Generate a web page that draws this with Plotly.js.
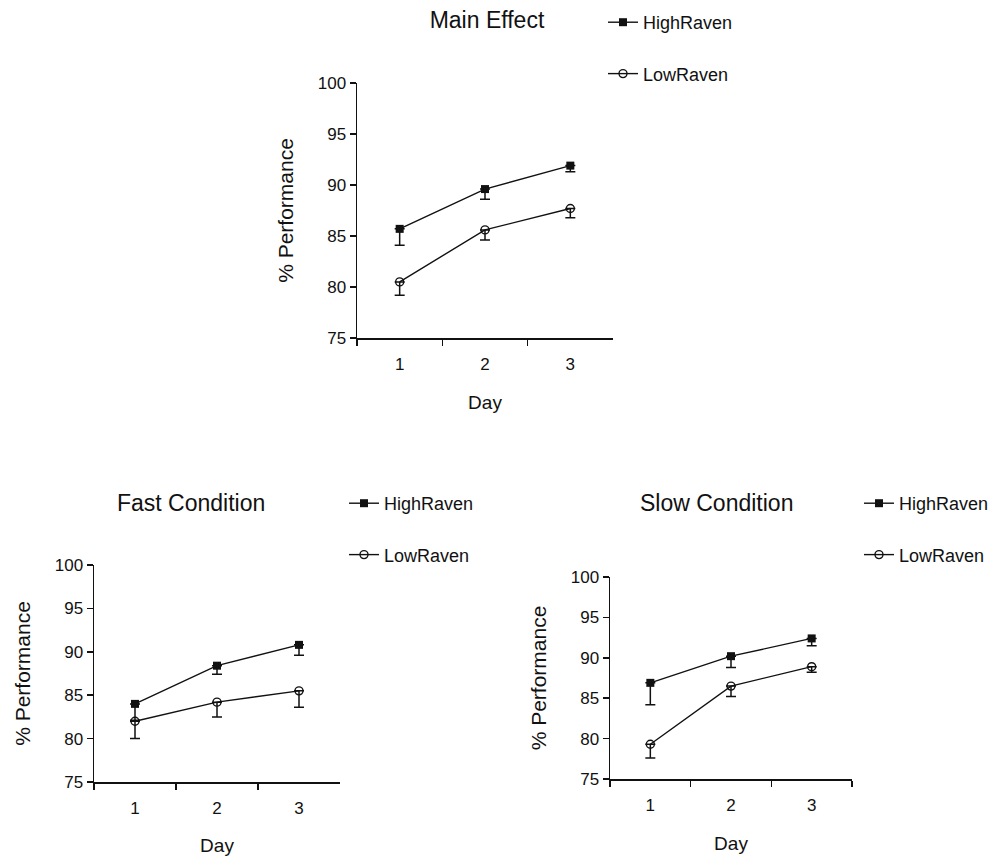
<!DOCTYPE html>
<html><head><meta charset="utf-8">
<script src="https://cdn.plot.ly/plotly-3.0.1.min.js"></script>
<style>html,body{margin:0;padding:0;background:#fff}#chart{width:995px;height:856px}</style>
</head><body><div id="chart"></div>
<script>
// ---- data ----
var days = ['1', '2', '3'];
var seriesNames = ['HighRaven', 'LowRaven'];
var panelTitles = ['Main Effect', 'Fast Condition', 'Slow Condition'];
var yTicks = [75, 80, 85, 90, 95, 100];

var mainHigh = [85.7, 89.6, 91.9];
var mainHighErr = [1.6, 1.0, 0.6];
var mainLow = [80.5, 85.6, 87.7];
var mainLowErr = [1.3, 1.0, 0.9];

var fastHigh = [84.0, 88.4, 90.8];
var fastHighErr = [1.9, 1.0, 1.2];
var fastLow = [82.0, 84.2, 85.5];
var fastLowErr = [2.0, 1.7, 1.9];

var slowHigh = [86.9, 90.2, 92.4];
var slowHighErr = [2.7, 1.4, 0.9];
var slowLow = [79.3, 86.5, 88.9];
var slowLowErr = [1.7, 1.3, 0.7];

// ---- styling ----
var FONT = 'Liberation Sans, Arial, sans-serif';
var INK = '#111';

function zeros(n) { var a = []; for (var i = 0; i < n; i++) a.push(0); return a; }

function trace(name, y, err, filled, xa, ya, legend, group) {
  return {
    type: 'scatter', mode: 'lines+markers', name: name,
    x: days, y: y, xaxis: xa, yaxis: ya,
    legend: legend, legendgroup: group,
    line: {color: INK, width: 1.4},
    marker: filled ? {symbol: 'square', size: 8, color: INK}
                   : {symbol: 'circle-open', size: 8, color: INK, line: {width: 1.4, color: INK}},
    error_y: {type: 'data', symmetric: false, array: zeros(y.length), arrayminus: err,
              color: INK, thickness: 1.5, width: 5},
    cliponaxis: false
  };
}

var data = [
  trace(seriesNames[0], mainHigh, mainHighErr, true, 'x', 'y', 'legend', 'a1'),
  trace(seriesNames[1], mainLow, mainLowErr, false, 'x', 'y', 'legend', 'a2'),
  trace(seriesNames[0], fastHigh, fastHighErr, true, 'x2', 'y2', 'legend2', 'b1'),
  trace(seriesNames[1], fastLow, fastLowErr, false, 'x2', 'y2', 'legend2', 'b2'),
  trace(seriesNames[0], slowHigh, slowHighErr, true, 'x3', 'y3', 'legend3', 'c1'),
  trace(seriesNames[1], slowLow, slowLowErr, false, 'x3', 'y3', 'legend3', 'c2')
];

var W = 995, H = 856;
function px(a) { return a / W; }
function py(a) { return 1 - a / H; }

function xAxis(x0, x1, anchor) {
  return {
    type: 'category', domain: [px(x0), px(x1)], anchor: anchor,
    range: [-0.5, 2.5], showline: true, linecolor: INK, linewidth: 1.5,
    ticks: 'outside', tickson: 'boundaries', ticklen: 6, tickcolor: INK, tickwidth: 1.5,
    showgrid: false, zeroline: false, ticklabelstandoff: 10,
    tickfont: {family: FONT, size: 17, color: INK},
    title: {text: 'Day', font: {family: FONT, size: 19, color: INK}, standoff: 23}
  };
}
function yAxis(y0, y1, anchor) {
  return {
    domain: [py(y1), py(y0)], anchor: anchor, range: [75, 100],
    tickvals: yTicks, ticktext: yTicks.map(String),
    showline: true, linecolor: INK, linewidth: 1.5,
    ticks: 'outside', ticklen: 6, tickcolor: INK, tickwidth: 1.5,
    showgrid: false, zeroline: false,
    tickfont: {family: FONT, size: 17, color: INK},
    title: {text: '% Performance', font: {family: FONT, size: 21, color: INK}, standoff: 18}
  };
}

function legendAt(x, yTop) {
  return {
    x: px(x), y: py(yTop), xanchor: 'left', yanchor: 'top',
    traceorder: 'grouped', tracegroupgap: 25,
    bgcolor: 'rgba(0,0,0,0)', borderwidth: 0,
    font: {family: FONT, size: 18, color: INK}
  };
}

var layout = {
  width: W, height: H,
  margin: {l: 0, r: 0, t: 0, b: 0},
  paper_bgcolor: '#fff', plot_bgcolor: '#fff',
  font: {family: FONT, color: INK},
  showlegend: true,
  title: {text: panelTitles[0], x: px(487), xref: 'paper', xanchor: 'center',
          y: py(20), yref: 'container', yanchor: 'middle',
          font: {family: FONT, size: 23, color: INK}},
  xaxis: xAxis(357, 613, 'y'),
  yaxis: yAxis(83, 338, 'x'),
  xaxis2: xAxis(94, 340, 'y2'),
  yaxis2: yAxis(565, 782, 'x2'),
  xaxis3: xAxis(610, 852, 'y3'),
  yaxis3: yAxis(577, 779, 'x3'),
  legend: legendAt(603, 4),
  legend2: legendAt(344, 485),
  legend3: legendAt(859, 485),
  annotations: [
    {text: panelTitles[1], x: px(191), y: py(503), xref: 'paper', yref: 'paper',
     xanchor: 'center', yanchor: 'middle', showarrow: false,
     font: {family: FONT, size: 23, color: INK}},
    {text: panelTitles[2], x: px(716), y: py(503), xref: 'paper', yref: 'paper',
     xanchor: 'center', yanchor: 'middle', showarrow: false,
     font: {family: FONT, size: 23, color: INK}}
  ]
};

Plotly.newPlot('chart', data, layout, {displayModeBar: false, staticPlot: true});
</script></body></html>
